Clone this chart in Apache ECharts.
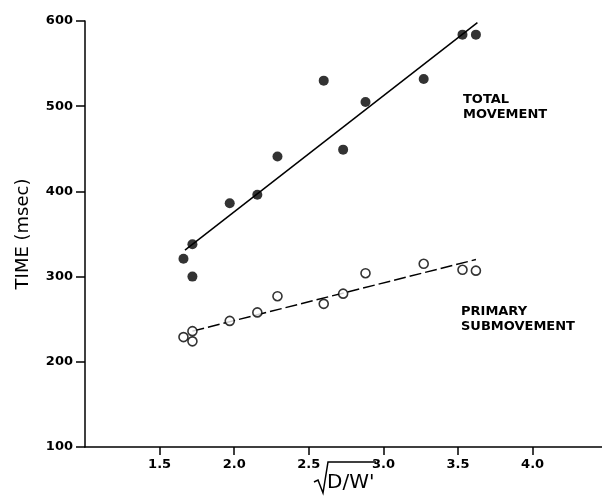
<!DOCTYPE html>
<html>
<head>
<meta charset="utf-8">
<script src="https://cdn.jsdelivr.net/npm/echarts@6/dist/echarts.min.js"></script>
<style>
  html, body { margin: 0; padding: 0; background: #fff; }
  #chart { width: 602px; height: 496px; }
</style>
</head>
<body>
<div id="chart"></div>
<script>
// Movement time against sqrt(D/W')
const sqrtDW = [1.66, 1.72, 1.72, 1.97, 2.155, 2.29, 2.6, 2.73, 2.88, 3.27, 3.53, 3.62];
const totalMovement = [321, 338, 300, 386, 396, 441, 530, 449, 505, 532, 584, 584];
const primarySubmovement = [229, 236, 224, 248, 258, 277, 268, 280, 304, 315, 308, 307];

// Fitted regression lines (end points)
const totalFitX = [1.67, 3.63];
const totalFitY = [331, 598];
const primaryFitX = [1.72, 3.62];
const primaryFitY = [236, 320];

const yTicks = [100, 200, 300, 400, 500, 600];
const xTicks = [1.5, 2.0, 2.5, 3.0, 3.5, 4.0];

const pairs = (xs, ys) => xs.map((x, i) => [x, ys[i]]);

const ink = '#000';
const labelFont = 'DejaVu Sans';

const chart = echarts.init(document.getElementById('chart'), null, { renderer: 'canvas' });

chart.setOption({
  animation: false,
  backgroundColor: '#fff',
  grid: { left: 85, right: 0, top: 21, bottom: 49, containLabel: false },
  xAxis: {
    type: 'value',
    min: 1.0,
    max: 4.465,
    interval: 0.5,
    splitLine: { show: false },
    axisLine: { show: true, onZero: false, lineStyle: { color: ink, width: 1.5 } },
    axisTick: { show: true, length: 8, lineStyle: { color: ink, width: 1.5 } },
    axisLabel: {
      showMinLabel: false,
      showMaxLabel: false,
      margin: 11,
      color: ink,
      fontFamily: labelFont,
      fontWeight: 'bold',
      fontSize: 13,
      formatter: v => (xTicks.some(t => Math.abs(t - v) < 1e-6) ? v.toFixed(1) : '')
    }
  },
  yAxis: {
    type: 'value',
    min: 100,
    max: 600,
    interval: 100,
    name: 'TIME (msec)',
    nameLocation: 'middle',
    nameGap: 53,
    nameRotate: 90,
    nameTextStyle: { color: ink, fontFamily: labelFont, fontSize: 18 },
    splitLine: { show: false },
    axisLine: { show: true, lineStyle: { color: ink, width: 1.5 } },
    axisTick: { show: true, length: 9, lineStyle: { color: ink, width: 1.5 } },
    axisLabel: {
      margin: 12,
      color: ink,
      fontFamily: labelFont,
      fontWeight: 'bold',
      fontSize: 13,
      formatter: v => (yTicks.includes(v) ? String(v) : '')
    }
  },
  series: [
    {
      name: 'total fit',
      type: 'line',
      data: pairs(totalFitX, totalFitY),
      symbol: 'none',
      lineStyle: { color: ink, width: 1.5 },
      z: 1
    },
    {
      name: 'primary fit',
      type: 'line',
      data: pairs(primaryFitX, primaryFitY),
      symbol: 'none',
      lineStyle: { color: ink, width: 1.5, type: [12, 4] },
      z: 1
    },
    {
      name: 'TOTAL MOVEMENT',
      type: 'scatter',
      data: pairs(sqrtDW, totalMovement),
      symbol: 'circle',
      symbolSize: 10,
      itemStyle: { color: ink },
      z: 3
    },
    {
      name: 'PRIMARY SUBMOVEMENT',
      type: 'scatter',
      data: pairs(sqrtDW, primarySubmovement),
      symbol: 'circle',
      symbolSize: 9,
      itemStyle: { color: '#fff', borderColor: ink, borderWidth: 1.6 },
      z: 3
    }
  ],
  graphic: [
    {
      type: 'text',
      left: 463, top: 92,
      style: {
        text: 'TOTAL\nMOVEMENT',
        fill: ink,
        font: 'bold 13px "DejaVu Sans"',
        lineHeight: 15
      }
    },
    {
      type: 'text',
      left: 461, top: 304,
      style: {
        text: 'PRIMARY\nSUBMOVEMENT',
        fill: ink,
        font: 'bold 13px "DejaVu Sans"',
        lineHeight: 15
      }
    },
    // x-axis title: square root sign over D/W'
    {
      type: 'polyline',
      shape: { points: [[314, 482], [318, 480], [323, 493], [328, 462], [376, 462]] },
      style: { stroke: ink, lineWidth: 1.5, fill: null }
    },
    {
      type: 'text',
      left: 327, top: 473,
      style: {
        text: "D/W'",
        fill: ink,
        font: '20px "DejaVu Sans"'
      }
    }
  ]
});
</script>
</body>
</html>
